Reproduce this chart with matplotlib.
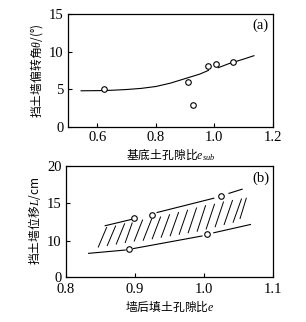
import numpy as np
import matplotlib.pyplot as plt

plt.rcParams['font.family'] = ['Liberation Serif', 'Noto Sans CJK SC']
plt.rcParams['mathtext.fontset'] = 'custom'
plt.rcParams['mathtext.rm'] = 'Liberation Serif'
plt.rcParams['mathtext.it'] = 'Liberation Serif:italic'

# (a) 基底土孔隙比 vs 偏转角
a_e = [0.623, 0.91, 0.926, 0.979, 1.007, 1.064]
a_theta = [5.0, 5.9, 2.85, 8.1, 8.4, 8.6]
a_fit_x = [0.545, 0.6, 0.65, 0.7, 0.75, 0.8, 0.85, 0.9, 0.95, 0.98, np.nan, 1.013, 1.05, 1.1, 1.135]
a_fit_y = [4.78, 4.8, 4.85, 4.95, 5.1, 5.35, 5.8, 6.4, 7.0, 7.5, np.nan, 7.85, 8.4, 9.0, 9.45]

# (b) 墙后填土孔隙比 vs 位移
b_e = [0.898, 0.925, 1.024, 0.892, 1.004]
b_L = [13.0, 13.47, 16.0, 8.9, 10.9]
b_up_x = [0.857, 0.896, np.nan, 0.932, 1.014, np.nan, 1.036, 1.055]
b_up_y = [12.04, 12.9, np.nan, 13.8, 15.7, np.nan, 16.35, 16.9]
b_lo_x = [0.833, 0.886, np.nan, 0.898, 0.997, np.nan, 1.014, 1.067]
b_lo_y = [8.36, 8.8, np.nan, 9.0, 10.67, np.nan, 11.1, 12.2]

# hatch strokes inside the band
hatch_x0 = [0.847, 0.860, 0.873, 0.886, 0.899, 0.912, 0.925, 0.938, 0.951,
            0.964, 0.977, 0.990, 1.003, 1.016, 1.029, 1.042, 1.052]
hatch_y0 = [9.2, 9.4, 9.6, 9.8, 10.0, 10.1, 10.3, 10.5, 10.7,
            10.9, 11.1, 11.3, 11.6, 11.9, 12.2, 12.5, 13.0]
hatch_x1 = [0.859, 0.872, 0.885, 0.896, 0.911, 0.924, 0.937, 0.950, 0.963,
            0.976, 0.989, 1.002, 1.015, 1.028, 1.041, 1.054, 1.061]
hatch_y1 = [11.8, 12.0, 12.3, 12.4, 12.8, 12.9, 13.2, 13.5, 13.8,
            14.1, 14.4, 14.7, 14.9, 15.2, 15.4, 15.6, 15.7]

fig = plt.figure(figsize=(3.06, 3.22), dpi=100)
ax1 = fig.add_axes([0.222, 0.6065, 0.670, 0.35])
ax2 = fig.add_axes([0.215, 0.1407, 0.678, 0.344])

mk = dict(marker='o', ls='none', ms=4, mfc='white', mec='k', mew=0.8, zorder=3)
cjk = dict(family='Noto Sans CJK SC', fontsize=8.5)

ax1.plot(a_fit_x, a_fit_y, color='k', lw=0.8)
ax1.plot(a_e, a_theta, **mk)
ax1.set_xlim(0.5, 1.2)
ax1.set_ylim(0, 15)
ax1.set_xticks([0.6, 0.8, 1.0, 1.2])
ax1.set_xticklabels(['0.6', '0.8', '1.0', '1.2'])
ax1.set_yticks([0, 5, 10, 15])
ax1.text(0.98, 0.9, '(a)', transform=ax1.transAxes, ha='right', va='center', fontsize=10.5)
ax1.set_xlabel('基底土孔隙比$e_{sub}$', labelpad=2, **cjk)
ax1.set_ylabel('挡土墙偏转角$\\theta$/(°)', labelpad=3, **cjk)

ax2.plot(b_up_x, b_up_y, color='k', lw=0.8)
ax2.plot(b_lo_x, b_lo_y, color='k', lw=0.8)
for x0, y0, x1, y1 in zip(hatch_x0, hatch_y0, hatch_x1, hatch_y1):
    ax2.plot([x0, x1], [y0, y1], color='k', lw=0.7)
ax2.plot(b_e, b_L, **mk)
ax2.set_xlim(0.8, 1.1)
ax2.set_ylim(5.25, 20)
ax2.set_xticks([0.8, 0.9, 1.0, 1.1])
ax2.set_xticklabels(['0.8', '0.9', '1.0', '1.1'])
ax2.set_yticks([5.25, 10, 15, 20])
ax2.set_yticklabels(['0', '10', '15', '20'])
ax2.text(0.98, 0.89, '(b)', transform=ax2.transAxes, ha='right', va='center', fontsize=10.5)
ax2.set_xlabel('墙后填土孔隙比$e$', labelpad=2, **cjk)
ax2.set_ylabel('挡土墙位移$L$/cm', labelpad=3, **cjk)

for ax in (ax1, ax2):
    ax.tick_params(direction='in', length=3, width=0.8, labelsize=10.5, pad=3)
    for s in ax.spines.values():
        s.set_linewidth(0.9)
ax2.tick_params(axis='x', pad=4.5)
ax2.get_yticklabels()[0].set_va('center_baseline')

fig.savefig('out.png', dpi=100)
